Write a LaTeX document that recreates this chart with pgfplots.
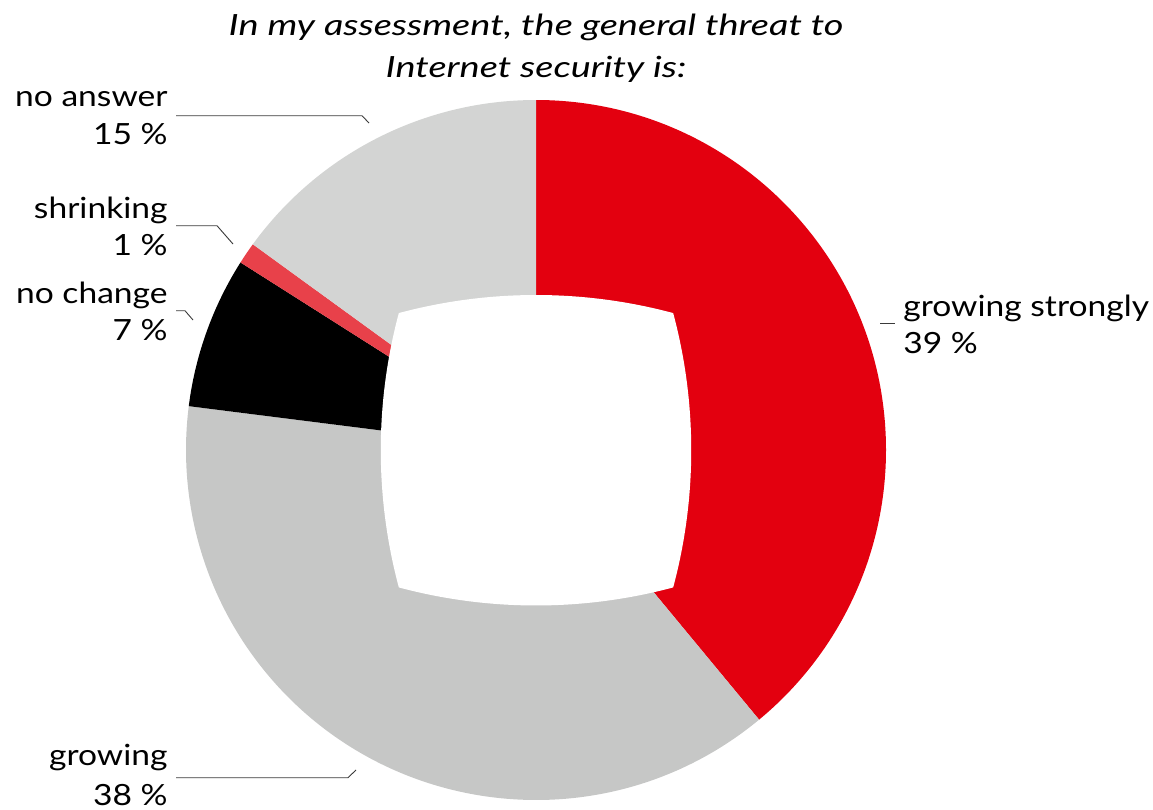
\documentclass[border=0pt]{standalone}
\usepackage{pgfplots}
\pgfplotsset{compat=1.18}
\usepackage{pgfplotstable}
\usepackage{fontspec}
\setmainfont{Lato}[FakeStretch=1.15]
\newfontfamily\titlefont{Lato}[FakeStretch=1.3]
\definecolor{cRed}{HTML}{E3000F}
\definecolor{cGrey}{HTML}{C6C7C6}
\definecolor{cBlack}{HTML}{000000}
\definecolor{cRedL}{HTML}{E8414A}
\definecolor{cGreyL}{HTML}{D3D4D3}
\definecolor{cLine}{HTML}{3A3A3A}
\tikzset{
  lbl/.style={font=\fontsize{14.6bp}{17bp}\selectfont,inner sep=0pt,text=black},
  ldr/.style={draw=cLine,line width=0.45bp}}

\pgfplotstableread{
label pct col
strongly 39 cRed
growing 38 cGrey
nochange 7 cBlack
shrinking 1 cRedL
noanswer 15 cGreyL
}\piedata

\begin{document}
\begin{tikzpicture}
\clip (0,0) rectangle (576.5bp,405bp);
\begin{axis}[at={(0,0)},anchor=south west,scale only axis,
  width=576.5bp,height=405bp,xmin=0,xmax=1153,ymin=0,ymax=810,
  hide axis,clip=false]
\gdef\angA{90}
\pgfplotsforeachungrouped \i in {0,...,4}{%
  \pgfplotstablegetelem{\i}{pct}\of\piedata \let\pctv\pgfplotsretval
  \pgfplotstablegetelem{\i}{col}\of\piedata \let\colv\pgfplotsretval
  \pgfmathsetmacro\angB{\angA-3.6*\pctv}%
  \edef\cmd{\noexpand\fill[\colv] (axis cs:536,360) -- ++(\angA:175bp) arc[start angle=\angA,end angle=\angB,radius=175bp] -- cycle;}%
  \cmd
  \xdef\angA{\angB}%
}
% inner hole
\fill[white] (axis cs:398.83,496.94)
  arc[start angle=105,end angle=75,radius=265bp]
  arc[start angle=15,end angle=-15,radius=265bp]
  arc[start angle=285,end angle=255,radius=265bp]
  arc[start angle=195,end angle=165,radius=265bp] -- cycle;
% leader lines
\draw[ldr] (axis cs:176,694.3) -- (axis cs:362,694.3) -- (axis cs:369,687);
\draw[ldr] (axis cs:176,584.3) -- (axis cs:217,584.3) -- (axis cs:233,566);
\draw[ldr] (axis cs:176,499.3) -- (axis cs:185,499.3) -- (axis cs:193,490);
\draw[ldr] (axis cs:176,32.3) -- (axis cs:348,32.3) -- (axis cs:356,40);
\draw[ldr] (axis cs:880,487) -- (axis cs:895,487);
% labels
\node[lbl,anchor=base east] at (axis cs:168,703.3) {no answer};
\node[lbl,anchor=base east] at (axis cs:168,666) {15 \%};
\node[lbl,anchor=base east] at (axis cs:168,592) {shrinking};
\node[lbl,anchor=base east] at (axis cs:168,555) {1 \%};
\node[lbl,anchor=base east] at (axis cs:168,507) {no change};
\node[lbl,anchor=base east] at (axis cs:168,470) {7 \%};
\node[lbl,anchor=base east] at (axis cs:168,44.3) {growing};
\node[lbl,anchor=base east] at (axis cs:168,5) {38 \%};
\node[lbl,anchor=base west] at (axis cs:903,493.3) {growing strongly};
\node[lbl,anchor=base west] at (axis cs:903,457) {39 \%};
% title
\node[lbl,anchor=base,font=\fontsize{14.6bp}{17bp}\titlefont\itshape] at (axis cs:536,775) {In my assessment, the general threat to};
\node[lbl,anchor=base,font=\fontsize{14.6bp}{17bp}\titlefont\itshape] at (axis cs:536,733) {Internet security is:};
\end{axis}
\end{tikzpicture}
\end{document}
